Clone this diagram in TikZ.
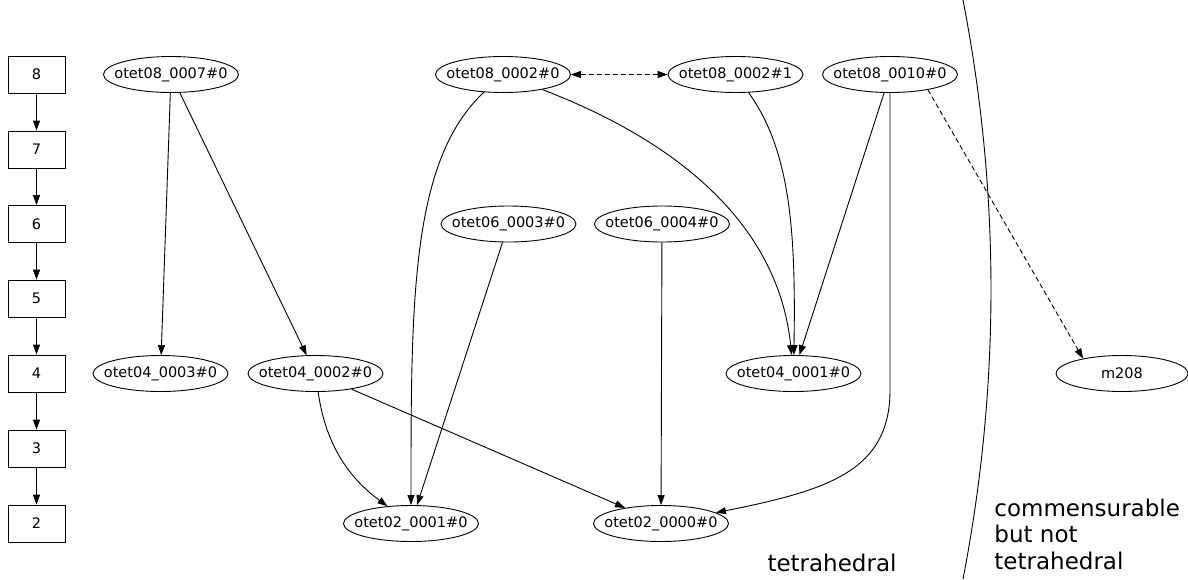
\documentclass[tikz,border=0pt]{standalone}
\usepackage{fontspec}
\setmainfont{DejaVu Sans}
\usetikzlibrary{shapes.geometric,arrows.meta}
\begin{document}
\begin{tikzpicture}[x=1pt,y=-1pt,
  every path/.style={line width=0.9pt},
  lvl/.style={draw, rectangle, minimum width=57pt, minimum height=37pt, inner sep=0pt, font=\fontsize{14.5}{17}\selectfont},
  ell/.style={draw, ellipse, minimum width=135pt, minimum height=36pt, inner xsep=-12pt, inner ysep=0pt, font=\fontsize{14.5}{17}\selectfont},
  arr/.style={-{Triangle[length=10pt,width=7pt]}},
  darr/.style={{Triangle[length=10pt,width=7pt]}-{Triangle[length=10pt,width=7pt]}, dash pattern=on 5pt off 3pt},
  dsh/.style={-{Triangle[length=10pt,width=7pt]}, dash pattern=on 5pt off 3pt},
  big/.style={inner sep=0pt, font=\fontsize{23}{26.5}\selectfont}
]
\useasboundingbox (0,0) rectangle (1188,579);

% level boxes
\node[lvl] (l8) at (36.5,74.5) {8};
\node[lvl] (l7) at (36.5,149.5) {7};
\node[lvl] (l6) at (36.5,224) {6};
\node[lvl] (l5) at (36.5,298.5) {5};
\node[lvl] (l4) at (36.5,373.5) {4};
\node[lvl] (l3) at (36.5,448.5) {3};
\node[lvl] (l2) at (36.5,523.5) {2};
\draw[arr] (l8) -- (l7);
\draw[arr] (l7) -- (l6);
\draw[arr] (l6) -- (l5);
\draw[arr] (l5) -- (l4);
\draw[arr] (l4) -- (l3);
\draw[arr] (l3) -- (l2);

% ellipse nodes
\node[ell] (n0807) at (171,74.5) {otet08\_0007\#0};
\node[ell] (n0802a) at (503,74.5) {otet08\_0002\#0};
\node[ell] (n0802b) at (735.5,74.5) {otet08\_0002\#1};
\node[ell] (n0810) at (890,74.5) {otet08\_0010\#0};
\node[ell] (n0603) at (508.5,224) {otet06\_0003\#0};
\node[ell] (n0604) at (662,224) {otet06\_0004\#0};
\node[ell] (n0403) at (160.5,373.5) {otet04\_0003\#0};
\node[ell] (n0402) at (315.5,373.5) {otet04\_0002\#0};
\node[ell] (n0401) at (793.5,373.5) {otet04\_0001\#0};
\node[ell, minimum width=132pt] (m208) at (1122,373.5) {m208};
\node[ell] (n0201) at (411,523.5) {otet02\_0001\#0};
\node[ell] (n0200) at (661,523.5) {otet02\_0000\#0};

% edges
\draw[arr] (n0807) -- (n0403);
\draw[arr] (n0807) -- (n0402);
\draw[darr] (n0802a) -- (n0802b);
\draw[arr] (n0802a) .. controls (411,160) and (411,300) .. (n0201);
\draw[arr] (n0802a) .. controls (700,150) and (780,240) .. (n0401);
\draw[arr] (n0802b) .. controls (790,150) and (796,230) .. (n0401);
\draw[arr] (n0810) -- (n0401);
\coordinate (bend) at (890,390);
\draw[arr] (n0810.south) -- (bend) .. controls (890,470) and (830,490) .. (n0200);
\draw[dsh] (n0810.-22) -- (m208.159);
\draw[arr] (n0603) -- (n0201);
\draw[arr] (n0604) -- (n0200);
\draw[arr] (n0402) .. controls (325,440) and (345,475) .. (n0201);
\draw[arr] (n0402) -- (n0200);

% separator and labels
\draw (963,0) .. controls (1000.3,193) and (1000.3,386) .. (963,579);
\node[big, anchor=base] (lab1) at (832,571) {tetrahedral};
\node[big, align=left, anchor=south west] (lab2) at (994,570) {commensurable\\but not\\tetrahedral};
\end{tikzpicture}
\end{document}
